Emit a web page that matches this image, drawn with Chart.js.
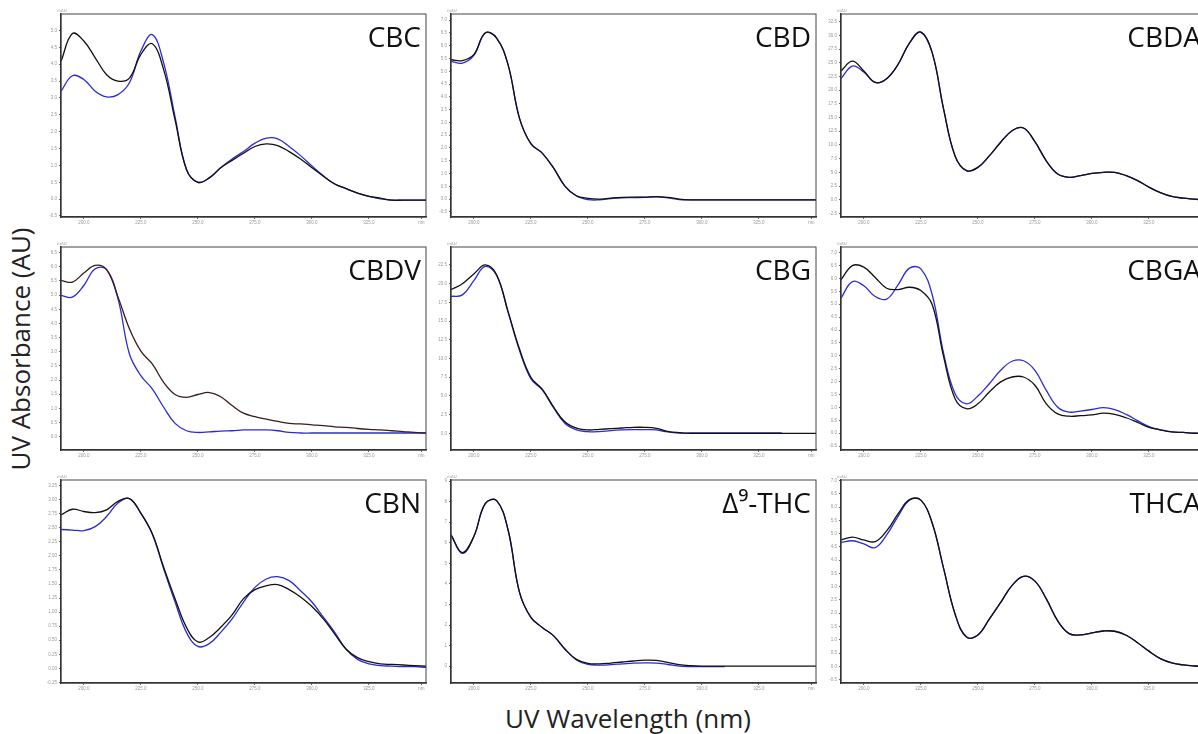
<!DOCTYPE html>
<html>
<head>
<meta charset="utf-8">
<script src="https://cdn.jsdelivr.net/npm/chart.js@4.4.1/dist/chart.umd.min.js"></script>
<style>
    html, body { margin: 0; padding: 0; background: #fff; }
    body { width: 1198px; height: 734px; overflow: hidden; position: relative; font-family: 'Open Sans', sans-serif; }
    canvas { position: absolute; }
    #yTitle { position: absolute; left: 20px; top: 349px; transform: translate(-50%, -50%) rotate(-90deg); font-size: 26px; color: #222; white-space: nowrap; }
    #xTitle { position: absolute; left: 628px; top: 718px; transform: translate(-50%, -50%); font-size: 26px; color: #222; white-space: nowrap; }
</style>
</head>
<body>
<div id="yTitle">UV Absorbance (AU)</div>
<div id="xTitle">UV Wavelength (nm)</div>
<script>
// wavelength grid (nm) and axis ticks
const wavelengths = [190,195,200,205,210,215,220,225,230,235,240,245,250,255,260,265,270,275,280,285,290,295,300,305,310,315,320,325,330,335,340,345,350];
const xTicks = [200, 225, 250, 275, 300, 325];

// black = reference trace, blue = sample trace (mAU)
const cbcBlack = [4.09,4.91,4.69,4.19,3.69,3.50,3.59,4.29,4.61,3.84,2.35,0.88,0.50,0.63,0.93,1.15,1.36,1.56,1.64,1.59,1.41,1.19,0.93,0.68,0.45,0.31,0.18,0.08,0.03,-0.03,-0.03,-0.03,-0.03];
const cbcBlue  = [3.20,3.66,3.55,3.20,3.03,3.10,3.45,4.39,4.88,4.04,2.44,0.88,0.50,0.63,0.93,1.19,1.41,1.66,1.81,1.79,1.56,1.29,0.98,0.69,0.45,0.31,0.18,0.08,0.01,-0.03,-0.03,-0.03,-0.03];
const cbcTicks = [-0.5,0,0.5,1,1.5,2,2.5,3,3.5,4,4.5,5];

const cbdBlack = [5.45,5.42,5.65,6.50,6.30,5.26,3.17,2.17,1.80,1.21,0.50,0.13,0.03,0.00,0.04,0.07,0.08,0.08,0.10,0.07,0.00,-0.03,-0.03,-0.03,-0.03,-0.03,-0.03,-0.03,-0.03,-0.03,-0.03,-0.03,-0.03];
const cbdBlue  = [5.39,5.32,5.62,6.50,6.30,5.26,3.17,2.17,1.80,1.21,0.50,0.12,-0.02,-0.03,0.02,0.05,0.06,0.07,0.09,0.05,-0.02,-0.03,-0.03,-0.03,-0.03,-0.03,-0.03,-0.03,-0.03,-0.03,-0.03,-0.03,-0.03];
const cbdTicks = [-0.5,0,0.5,1,1.5,2,2.5,3,3.5,4,4.5,5,5.5,6,6.5,7];

const cbdaBlack = [23.5,25.3,23.5,21.4,22.1,24.7,28.6,30.6,26.8,16.5,8.0,5.3,5.9,8.0,10.5,12.6,13.1,10.6,7.1,4.7,4.1,4.4,4.8,5.0,5.0,4.4,3.5,2.3,1.3,0.6,0.3,0.1,-0.1];
const cbdaBlue  = [22.1,24.4,23.3,21.4,22.1,24.7,28.6,30.6,26.8,16.5,8.0,5.3,5.9,8.0,10.5,12.6,13.1,10.6,7.1,4.7,4.1,4.4,4.8,5.0,5.0,4.4,3.5,2.3,1.3,0.6,0.3,0.1,-0.1];
const cbdaTicks = [-2.5,0,2.5,5,7.5,10,12.5,15,17.5,20,22.5,25,27.5,30,32.5];

const cbdvBlack = [5.52,5.46,5.78,6.05,5.90,4.93,3.81,3.02,2.57,1.92,1.49,1.39,1.49,1.56,1.41,1.10,0.83,0.71,0.62,0.54,0.47,0.45,0.42,0.39,0.35,0.33,0.29,0.26,0.24,0.21,0.18,0.15,0.13];
const cbdvBlue  = [4.99,4.93,5.34,5.93,5.90,4.87,2.92,2.16,1.69,1.04,0.47,0.21,0.15,0.17,0.20,0.21,0.24,0.24,0.24,0.21,0.15,0.13,0.13,0.13,0.13,0.13,0.13,0.13,0.13,0.13,0.13,0.13,0.13];
const cbdvTicks = [0,0.5,1,1.5,2,2.5,3,3.5,4,4.5,5,5.5,6,6.5];

const cbgBlack = [19.2,20.0,21.3,22.5,21.2,16.3,11.3,7.5,5.9,3.5,1.5,0.7,0.45,0.53,0.62,0.71,0.80,0.80,0.67,0.27,0.09,0,0,0,0,0,0,0,0,0,0,0,0];
const cbgBlue  = [18.3,18.5,20.4,22.3,21.1,16.2,11.1,7.3,5.8,3.4,1.3,0.45,0.22,0.22,0.36,0.45,0.49,0.49,0.45,0.18,0.04,0.04,0.04,0.04,0.04,0.04,0.04,0.04,0.04,0.04,null,null,null];
const cbgTicks = [0,2.5,5,7.5,10,12.5,15,17.5,20,22.5];

const cbgaBlack = [5.95,6.50,6.44,6.04,5.62,5.57,5.66,5.53,4.98,2.96,1.34,0.95,1.14,1.60,1.99,2.18,2.18,1.86,1.14,0.75,0.66,0.68,0.71,0.78,0.73,0.60,0.42,0.23,0.13,0.05,0.03,0.00,-0.01];
const cbgaBlue  = [5.24,5.88,5.72,5.30,5.20,5.75,6.40,6.37,5.36,3.09,1.53,1.14,1.44,1.92,2.44,2.79,2.81,2.44,1.66,1.01,0.82,0.86,0.92,0.99,0.92,0.73,0.49,0.26,0.13,0.05,0.03,0.00,-0.01];
const cbgaTicks = [-0.5,0,0.5,1,1.5,2,2.5,3,3.5,4,4.5,5,5.5,6,6.5,7];

const cbnBlack = [2.73,2.83,2.79,2.77,2.82,2.97,3.02,2.76,2.40,1.80,1.24,0.73,0.47,0.55,0.73,0.95,1.24,1.40,1.47,1.49,1.40,1.27,1.10,0.88,0.61,0.34,0.19,0.12,0.08,0.07,0.06,0.05,0.04];
const cbnBlue  = [2.47,2.46,2.45,2.52,2.70,2.94,3.02,2.76,2.39,1.77,1.18,0.64,0.39,0.44,0.64,0.88,1.18,1.44,1.59,1.63,1.56,1.38,1.18,0.91,0.64,0.34,0.16,0.08,0.05,0.04,0.03,0.03,0.02];
const cbnTicks = [-0.25,0,0.25,0.5,0.75,1,1.25,1.5,1.75,2,2.25,2.5,2.75,3,3.25];

const thcBlack = [6.38,5.52,6.30,7.90,8.05,6.63,3.60,2.37,1.88,1.47,0.82,0.33,0.13,0.11,0.15,0.20,0.25,0.29,0.28,0.18,0.07,0.02,0,0,0,0,0,0,0,0,0,0,0];
const thcBlue  = [6.38,5.48,6.30,7.90,8.05,6.63,3.60,2.37,1.88,1.47,0.82,0.30,0.08,0.05,0.07,0.11,0.15,0.16,0.15,0.08,0.00,-0.02,-0.02,-0.02,-0.02,null,null,null,null,null,null,null,null];
const thcTicks = [0,1,2,3,4,5,6,7,8,9];

const thcaBlack = [4.76,4.87,4.76,4.70,5.10,5.74,6.28,6.26,5.39,3.68,1.97,1.10,1.18,1.78,2.41,3.05,3.39,3.21,2.54,1.71,1.23,1.18,1.26,1.33,1.32,1.17,0.89,0.57,0.29,0.13,0.05,0.01,-0.01];
const thcaBlue  = [4.66,4.73,4.61,4.47,4.95,5.65,6.26,6.26,5.39,3.68,1.97,1.10,1.18,1.78,2.41,3.05,3.39,3.21,2.54,1.71,1.23,1.18,1.26,1.33,1.32,1.17,0.89,0.57,0.29,0.13,0.05,0.01,-0.01];
const thcaTicks = [-0.5,0,0.5,1,1.5,2,2.5,3,3.5,4,4.5,5,5.5,6,6.5,7];

const panels = [
    { name: 'CBC',    black: cbcBlack,  blue: cbcBlue,  ticks: cbcTicks,  min: -0.53, max: 5.49, dec: 1 },
    { name: 'CBD',    black: cbdBlack,  blue: cbdBlue,  ticks: cbdTicks,  min: -0.70, max: 7.24, dec: 1 },
    { name: 'CBDA',   black: cbdaBlack, blue: cbdaBlue, ticks: cbdaTicks, min: -3.15, max: 33.9, dec: 1 },
    { name: 'CBDV',   black: cbdvBlack, blue: cbdvBlue, ticks: cbdvTicks, min: -0.47, max: 6.70, dec: 1, dark: '#3a1c1c' },
    { name: 'CBG',    black: cbgBlack,  blue: cbgBlue,  ticks: cbgTicks,  min: -2.23, max: 24.9, dec: 1 },
    { name: 'CBGA',   black: cbgaBlack, blue: cbgaBlue, ticks: cbgaTicks, min: -0.65, max: 7.22, dec: 1 },
    { name: 'CBN',    black: cbnBlack,  blue: cbnBlue,  ticks: cbnTicks,  min: -0.26, max: 3.35, dec: 2 },
    { name: 'Δ⁹-THC', black: thcBlack,  blue: thcBlue,  ticks: thcTicks,  min: -0.82, max: 9.05, dec: 0 },
    { name: 'THCA',   black: thcaBlack, blue: thcaBlue, ticks: thcaTicks, min: -0.63, max: 7.02, dec: 1 }
];

// plot-area placement on the page
const colLeft = [61, 451, 841];
const rowTop = [14, 247, 480];
const plotW = 365, plotH = 203;
const yAxisW = 22, xAxisH = 12, padTop = 8, padRight = 2;

const frame = {
    id: 'frame',
    afterDraw(chart, args, opts) {
        const { ctx, chartArea: a } = chart;
        ctx.save();
        ctx.strokeStyle = '#444';
        ctx.lineWidth = 1;
        ctx.strokeRect(a.left, a.top, a.right - a.left, a.bottom - a.top);
        ctx.fillStyle = '#999';
        ctx.font = '4px "DejaVu Sans"';
        ctx.textAlign = 'left';
        ctx.fillText('mAU', a.left - 4, a.top - 2);
        ctx.fillStyle = '#111';
        ctx.font = '28px "Open Sans"';
        ctx.textAlign = 'right';
        ctx.textBaseline = 'alphabetic';
        ctx.fillText(opts.label, a.right - 5, a.top + 33);
        ctx.restore();
    }
};

panels.forEach((p, i) => {
    const canvas = document.createElement('canvas');
    const w = yAxisW + plotW + padRight;
    const h = padTop + plotH + xAxisH;
    canvas.width = w;
    canvas.height = h;
    canvas.style.width = w + 'px';
    canvas.style.height = h + 'px';
    canvas.style.left = (colLeft[i % 3] - yAxisW) + 'px';
    canvas.style.top = (rowTop[Math.floor(i / 3)] - padTop) + 'px';
    document.body.appendChild(canvas);

    new Chart(canvas.getContext('2d'), {
        type: 'line',
        data: {
            labels: wavelengths,
            datasets: [
                { data: wavelengths.map((x, k) => ({ x, y: p.black[k] })), borderColor: p.dark || '#111', borderWidth: 1.3 },
                { data: wavelengths.map((x, k) => ({ x, y: p.blue[k] })), borderColor: '#2b2bd6', borderWidth: 1.3 }
            ]
        },
        options: {
            responsive: false,
            animation: false,
            devicePixelRatio: 1,
            layout: { padding: { top: padTop, right: padRight, left: 0, bottom: 0 } },
            elements: { point: { radius: 0 }, line: { tension: 0.4 } },
            plugins: { legend: { display: false }, tooltip: { enabled: false }, frame: { label: p.name } },
            scales: {
                x: {
                    type: 'linear', min: 190, max: 350,
                    afterBuildTicks: s => { s.ticks = xTicks.concat([348]).map(v => ({ value: v })); },
                    afterFit: s => { s.height = xAxisH; },
                    ticks: { font: { size: 4.5 }, color: '#999', padding: 1, maxRotation: 0, autoSkip: false,
                             callback: v => v === 348 ? 'nm' : v.toFixed(1) },
                    grid: { drawOnChartArea: false, tickLength: 2, color: '#666' },
                    border: { color: '#222', width: 1.4 }
                },
                y: {
                    min: p.min, max: p.max,
                    afterBuildTicks: s => { s.ticks = p.ticks.map(v => ({ value: v })); },
                    afterFit: s => { s.width = yAxisW; },
                    ticks: { font: { size: 4.5 }, color: '#999', padding: 2, autoSkip: false,
                             callback: v => v.toFixed(p.dec) },
                    grid: { drawOnChartArea: false, tickLength: 2, color: '#666' },
                    border: { color: '#222', width: 1.4 }
                }
            }
        },
        plugins: [frame]
    });
});
</script>
</body>
</html>
